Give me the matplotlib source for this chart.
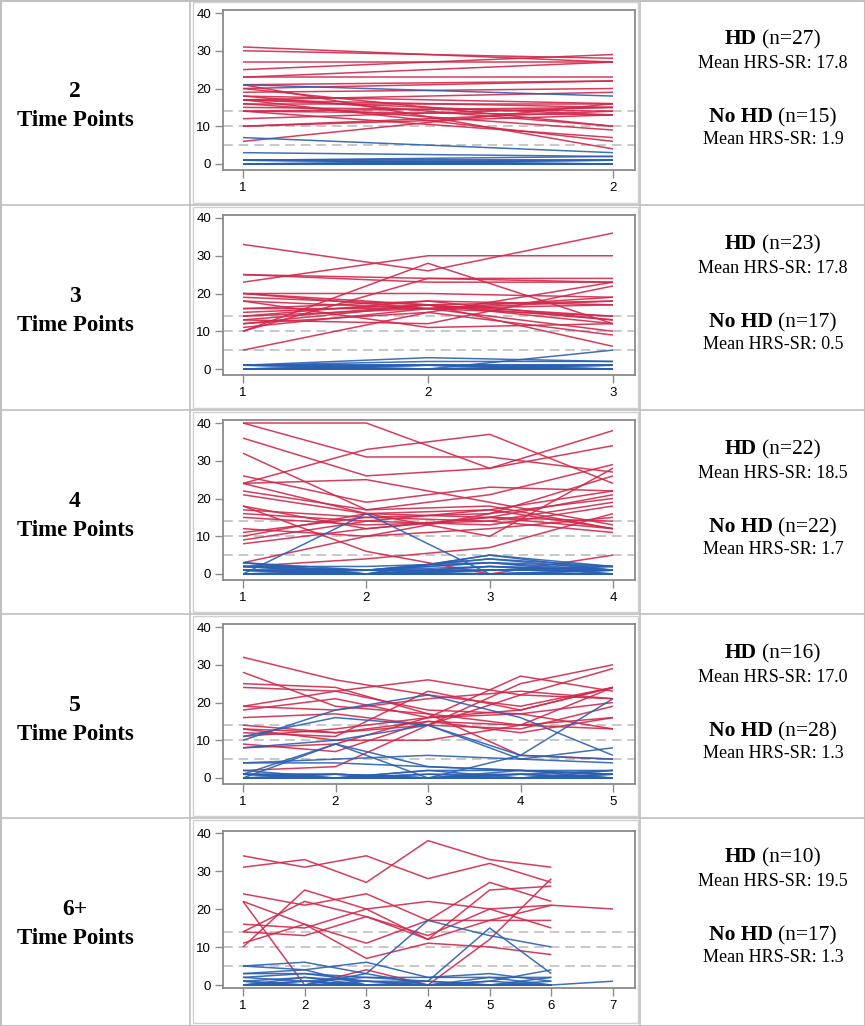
import matplotlib
matplotlib.use('Agg')
import matplotlib.pyplot as plt
from matplotlib.lines import Line2D
from matplotlib.patches import Rectangle

# ---------------- data ----------------
row_labels = ["2", "3", "4", "5", "6+"]
hd_n = [27, 23, 22, 16, 10]
nohd_n = [15, 17, 22, 28, 17]
hd_mean = ["17.8", "17.8", "18.5", "17.0", "19.5"]
nohd_mean = ["1.9", "0.5", "1.7", "1.3", "1.3"]
n_timepoints = [2, 3, 4, 5, 7]
y_ticks = [0, 10, 20, 30, 40]
ref_levels = [5, 10, 14]

tp2_hd = [(31, 27), (30, 28), (27, 27), (25, 29), (23, 27), (23, 23), (21, 22),
          (20, 22), (20, 10), (19, 20), (18, 16), (17, 19), (17, 15), (17, 13),
          (16, 16), (16, 9), (15, 14), (14, 15), (14, 7), (14, 13), (12, 15),
          (10, 13), (10, 14), (6, 16), (21, 4), (17, 6), (18, 10)]
tp2_nohd = [(21, 18), (7, 3), (3, 2), (1, 1), (1, 2), (1, 0), (0, 1), (0, 0),
            (0, 0), (1, 1), (0, 0), (0, 0), (0, 1), (1, 0), (0, 0)]

tp3_hd = [(33, 26, 36), (23, 30, 30), (25, 24, 24), (25, 23, 23), (20, 20, 19),
          (20, 17, 18), (10, 28, 12), (10, 24, 23), (5, 15, 23), (19, 17, 6),
          (18, 11, 12), (16, 18, 17), (15, 17, 13), (14, 16, 10), (13, 12, 22),
          (12, 17, 14), (11, 16, 19), (18, 16, 17), (16, 16, 18), (14, 18, 13),
          (12, 15, 9), (13, 17, 12), (20, 16, 14)]
tp3_nohd = [(1, 3, 2), (1, 2, 2), (0, 0, 5), (1, 1, 1), (0, 1, 1), (1, 0, 0),
            (0, 1, 0), (0, 0, 1), (0, 0, 0), (1, 1, 0), (0, 0, 0), (0, 0, 0),
            (1, 0, 1), (0, 0, 0), (0, 1, 0), (0, 0, 0), (1, 1, 1)]

tp4_hd = [(40, 40, 28, 34), (40, 31, 31, 27), (36, 26, 28, 38), (24, 33, 37, 24),
          (32, 17, 18, 12), (24, 25, 19, 13), (26, 19, 23, 22), (22, 17, 21, 29),
          (18, 6, 0, 5), (2, 4, 7, 16), (24, 16, 10, 28), (21, 16, 17, 22),
          (17, 15, 16, 20), (16, 14, 17, 12), (15, 13, 14, 19), (12, 10, 16, 26),
          (11, 15, 14, 11), (10, 16, 15, 21), (9, 14, 13, 18), (8, 12, 15, 14),
          (3, 10, 12, 15), (18, 12, 15, 12)]
tp4_nohd = [(0, 16, 0, 1), (3, 0, 5, 2), (2, 1, 4, 1), (1, 1, 3, 2), (2, 0, 2, 1),
            (1, 0, 1, 1), (0, 1, 2, 0), (1, 1, 1, 1), (0, 0, 1, 2), (2, 1, 0, 1),
            (1, 0, 0, 0), (3, 1, 4, 2), (2, 2, 3, 1), (1, 0, 5, 1), (0, 1, 3, 0),
            (3, 0, 2, 1), (1, 1, 1, 2), (2, 0, 1, 1), (0, 0, 0, 1), (1, 0, 0, 0),
            (0, 0, 0, 0), (0, 0, 0, 0)]

tp5_hd = [(32, 26, 22, 19, 24), (28, 19, 17, 14, 13), (25, 24, 17, 6, 5),
          (24, 23, 18, 17, 13), (19, 23, 26, 22, 21), (18, 21, 16, 27, 23),
          (16, 17, 14, 25, 30), (13, 10, 10, 14, 24), (12, 11, 23, 18, 24),
          (9, 7, 15, 12, 16), (2, 3, 14, 22, 29), (8, 9, 16, 18, 24),
          (14, 12, 14, 13, 19), (13, 12, 15, 14, 16), (11, 13, 16, 17, 20),
          (19, 18, 21, 23, 21)]
tp5_nohd = [(10, 18, 22, 16, 6), (0, 9, 0, 6, 21), (11, 16, 14, 5, 8),
            (8, 10, 14, 6, 5), (4, 5, 6, 5, 4), (4, 4, 3, 2, 2), (1, 9, 3, 2, 1),
            (1, 0, 2, 2, 1), (0, 0, 1, 1, 2), (1, 1, 0, 0, 1), (0, 0, 0, 1, 0),
            (0, 0, 0, 0, 0), (0, 0, 1, 0, 0), (1, 0, 0, 0, 0), (0, 0, 0, 0, 1),
            (0, 1, 0, 0, 0), (0, 0, 0, 0, 0), (2, 0, 0, 1, 0), (0, 0, 2, 0, 0),
            (1, 0, 0, 0, 1), (0, 0, 0, 0, 0), (0, 0, 0, 2, 0), (0, 0, 0, 0, 2),
            (0, 0, 0, 0, 0), (1, 1, 0, 0, 0), (0, 0, 0, 0, 0), (0, 1, 0, 1, 0),
            (0, 0, 0, 0, 0)]

tp6_hd = [(31, 33, 27, 38, 33, 31), (34, 31, 34, 28, 32, 27),
          (24, 21, 24, 17, 27, 22), (22, 0, 4, 0, 12, 28),
          (22, 16, 7, 11, 10, 8), (10, 25, 20, 12, 25, 26),
          (14, 22, 18, 13, 20, 15), (16, 15, 20, 22, 20, 21, 20),
          (11, 16, 11, 17, 17, 17), (14, 13, 18, 12, 17, 21)]
tp6_nohd = [(0, 0, 3, 17, 13, 10), (0, 1, 2, 1, 15, 3), (5, 6, 3, 0, 0, 0),
            (5, 4, 6, 2, 2, 2), (3, 4, 0, 0, 0, 0), (3, 3, 2, 2, 3, 1),
            (2, 3, 1, 0, 1, 4), (1, 2, 1, 1, 0, 2), (0, 2, 0, 0, 1, 0),
            (1, 0, 0, 0, 0, 0), (0, 0, 0, 0, 0, 0, 1), (2, 1, 0, 0, 0, 0),
            (0, 0, 0, 1, 0, 0), (1, 0, 0, 0, 0, 1), (0, 0, 1, 0, 0, 0),
            (0, 1, 0, 0, 0, 0), (0, 0, 0, 0, 2, 0)]

hd_series = [tp2_hd, tp3_hd, tp4_hd, tp5_hd, tp6_hd]
nohd_series = [tp2_nohd, tp3_nohd, tp4_nohd, tp5_nohd, tp6_nohd]

# ---------------- layout ----------------
W, H = 865, 1026
fig = plt.figure(figsize=(W / 100, H / 100), dpi=100)

def fx(px):
    return px / W

def fy(py):
    return 1 - py / H

RED = '#D2284A'
BLUE = '#2A60B2'
GRID = '#c0c0c0'
row_tops = [0, 205, 410, 614, 818]
row_bots = [205, 410, 614, 818, 1025]
col_x = [190, 640]

# table lines
for y in row_tops[1:]:
    fig.add_artist(Line2D([0, 1], [fy(y), fy(y)], color=GRID, lw=1.2))
for x in col_x:
    fig.add_artist(Line2D([fx(x), fx(x)], [0, 1], color=GRID, lw=1.2))
fig.add_artist(Rectangle((fx(0.5), fy(1025.5)), fx(864), fy(0.5) - fy(1025.5),
                         transform=fig.transFigure, fill=False, ec=GRID, lw=1.5))

renderer = fig.canvas.get_renderer()
SERIF = 'Liberation Serif'

def mixed(xc, ybase, parts, size):
    texts = []
    for s, w in parts:
        t = fig.text(0, fy(ybase), s, fontsize=size, fontweight=w, family=SERIF,
                     va='baseline', ha='left', color='black')
        texts.append(t)
    widths = [t.get_window_extent(renderer).width for t in texts]
    gap = size * 0.25 * 100 / 72
    total = sum(widths) + gap * (len(texts) - 1)
    x = xc - total / 2
    for t, w in zip(texts, widths):
        t.set_x(fx(x))
        x += w + gap

for i in range(5):
    t = row_tops[i]
    b = row_bots[i]
    # image box
    fig.add_artist(Rectangle((fx(193), fy(b - 2)), fx(638) - fx(193), fy(t + 2) - fy(b - 2),
                             transform=fig.transFigure, fill=False, ec='#d0d0d0', lw=1.0))
    # left labels
    fig.text(fx(75), fy(t + 97), row_labels[i], fontsize=17, fontweight='bold',
             family=SERIF, ha='center', va='baseline')
    fig.text(fx(75), fy(t + 126), "Time Points", fontsize=16.5, fontweight='bold',
             family=SERIF, ha='center', va='baseline')
    # right texts
    mixed(773, t + 44, [("HD", 'bold'), ("(n=%d)" % hd_n[i], 'normal')], 15.5)
    fig.text(fx(773), fy(t + 68), "Mean HRS-SR: " + hd_mean[i], fontsize=13,
             family=SERIF, ha='center', va='baseline')
    mixed(773, t + 122, [("No HD", 'bold'), ("(n=%d)" % nohd_n[i], 'normal')], 15.5)
    fig.text(fx(773), fy(t + 144), "Mean HRS-SR: " + nohd_mean[i], fontsize=13,
             family=SERIF, ha='center', va='baseline')

    # axes
    n = n_timepoints[i]
    ax_top = t + (13 if i == 4 else 10)
    ax_bot = t + 170
    y40 = t + (15 if i == 4 else 13)
    y0 = t + (167 if i == 4 else 164)
    ax = fig.add_axes([fx(223), fy(ax_bot), fx(635) - fx(223), fy(ax_top) - fy(ax_bot)])
    ppu_y = (y0 - y40) / 40
    ax.set_ylim(-(ax_bot - y0) / ppu_y, 40 + (y40 - ax_top) / ppu_y)
    ppu_x = 370 / (n - 1)
    ax.set_xlim(1 - 20 / ppu_x, n + 22 / ppu_x)

    for lv in ref_levels:
        ax.axhline(lv, color='#c8c8c8', lw=1.4, ls=(0, (5, 3)), zorder=1)
    for series in hd_series[i]:
        xs = list(range(1, len(series) + 1))
        ax.plot(xs, series, color=RED, lw=1.1, alpha=0.9, zorder=2, solid_capstyle='butt')
    for series in nohd_series[i]:
        xs = list(range(1, len(series) + 1))
        ax.plot(xs, series, color=BLUE, lw=1.1, alpha=0.9, zorder=3, solid_capstyle='butt')

    ax.set_yticks(y_ticks)
    ax.set_xticks(list(range(1, n + 1)))
    ax.tick_params(axis='both', length=5.5, width=1, color='#8a8a8a', labelsize=9.5,
                   labelcolor='black', pad=3)
    for lab in ax.get_xticklabels() + ax.get_yticklabels():
        lab.set_family('Liberation Sans')
    for sp in ax.spines.values():
        sp.set_color('#8a8a8a')
        sp.set_linewidth(1.3)

fig.savefig('out.png', dpi=100)
